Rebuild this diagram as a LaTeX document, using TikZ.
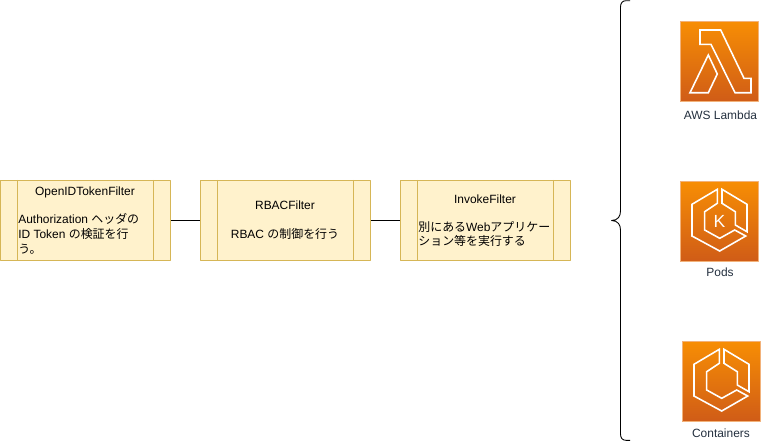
\documentclass[tikz,border=0pt]{standalone}
\usepackage{fontspec}
\setmainfont{Liberation Sans}
\newfontfamily\cjk{Noto Sans CJK JP}
\newcommand{\jp}[1]{{\cjk #1}}
\definecolor{boxfill}{HTML}{FFF2CC}
\definecolor{boxline}{HTML}{D6B656}
\definecolor{icontop}{HTML}{F78E04}
\definecolor{iconbot}{HTML}{D05C17}
\definecolor{iconedge}{HTML}{F2B27A}
\definecolor{awsink}{HTML}{232F3E}
\tikzset{
	filterbox/.style={draw=boxline, fill=boxfill, line width=0.5pt, minimum width=3.4cm, minimum height=1.6cm, inner sep=0pt},
	boxtext/.style={inner sep=0pt, anchor=base},
	boxleft/.style={inner sep=0pt, anchor=base west},
	icontext/.style={inner sep=0pt, anchor=base, text=awsink},
	glyph/.style={draw=white, line width=0.9pt, line join=miter},
	iconbox/.pic={
		\draw[iconedge, line width=0.5pt, top color=icontop, bottom color=iconbot] (0,0) rectangle (78,80);
	},
	hexring/.pic={
		\draw[glyph] (37.3,8.3)--(37.3,22.3)--(24.7,30.7)--(24.7,49)--(39.7,57.3)--(54.7,49)--(65.7,55)--(39.7,70)--(12,55)--(12,23.3)--cycle;
		\draw[glyph] (42,8.3)--(67,23.3)--(67,50.7)--(55.3,44)--(55.3,30.7)--(42,22.3)--cycle;
	}
}
\begin{document}
\begin{tikzpicture}[x=0.02cm, y=-0.02cm, font=\fontsize{6.8}{8}\selectfont, line join=round]
	\useasboundingbox (0,0) rectangle (761,441);
	% filters
	\node[filterbox] (oidc) at (85.4,220.4) {};
	\node[filterbox] (rbac) at (285.4,220.4) {};
	\node[filterbox] (invoke) at (485.4,220.4) {};
	\foreach \b in {oidc,rbac,invoke} {
		\draw[boxline, line width=0.5pt] ([xshift=0.34cm]\b.north west)--([xshift=0.34cm]\b.south west);
		\draw[boxline, line width=0.5pt] ([xshift=-0.34cm]\b.north east)--([xshift=-0.34cm]\b.south east);
	}
	\draw[line width=0.45pt] (oidc)--(rbac);
	\draw[line width=0.45pt] (rbac)--(invoke);
	% texts
	\node[boxtext] (oidctitle) at (85,195) {OpenIDTokenFilter};
	\node[boxleft] (oidca) at (18,223) {Authorization \jp{ヘッダの}};
	\node[boxleft] (oidcb) at (18,238) {ID Token \jp{の検証を行}};
	\node[boxleft] (oidcc) at (18,253) {\jp{う。}};
	\node[boxtext] (rbactitle) at (285,209) {RBACFilter};
	\node[boxtext] (rbaca) at (285,238) {RBAC \jp{の制御を行う}};
	\node[boxtext] (invoketitle) at (485,203) {InvokeFilter};
	\node[boxleft] (invokea) at (418,231) {\jp{別にある}Web\jp{アプリケー}};
	\node[boxleft] (invokeb) at (418,245) {\jp{ション等を実行する}};
	% brace
	\draw[line width=0.5pt] (630,0.7)--(626,0.7) .. controls (622.5,0.7) and (620.5,3) .. (620.5,7)--(620.5,211) .. controls (620.5,216) and (618,220.5) .. (611.5,220.5) .. controls (618,220.5) and (620.5,225) .. (620.5,230)--(620.5,434) .. controls (620.5,438) and (622.5,440.3) .. (626,440.3)--(630,440.3);
	% icons
	\path (680,21) pic{iconbox};
	\draw[glyph] (700,30)--(720.7,30)--(744,78.3)--(751,78.3)--(751,92.7)--(735,92.7)--(711,44.3)--(700,44.3)--cycle;
	\draw[glyph] (708.3,55)--(717.3,74)--(708.3,92.7)--(690,92.7)--cycle;
	\node[icontext] (lambda) at (720.5,119) {AWS Lambda};
	\path (680,181) pic{iconbox};
	\path (680,181) pic{hexring};
	\node[inner sep=0pt, text=white, font=\fontsize{10}{10}\selectfont] (kletter) at (719.5,221) {K};
	\node[icontext] (pods) at (720,276) {Pods};
	\path (682,341) pic{iconbox};
	\path (682,341) pic{hexring};
	\node[icontext] (containers) at (721,437) {Containers};
\end{tikzpicture}
\end{document}
